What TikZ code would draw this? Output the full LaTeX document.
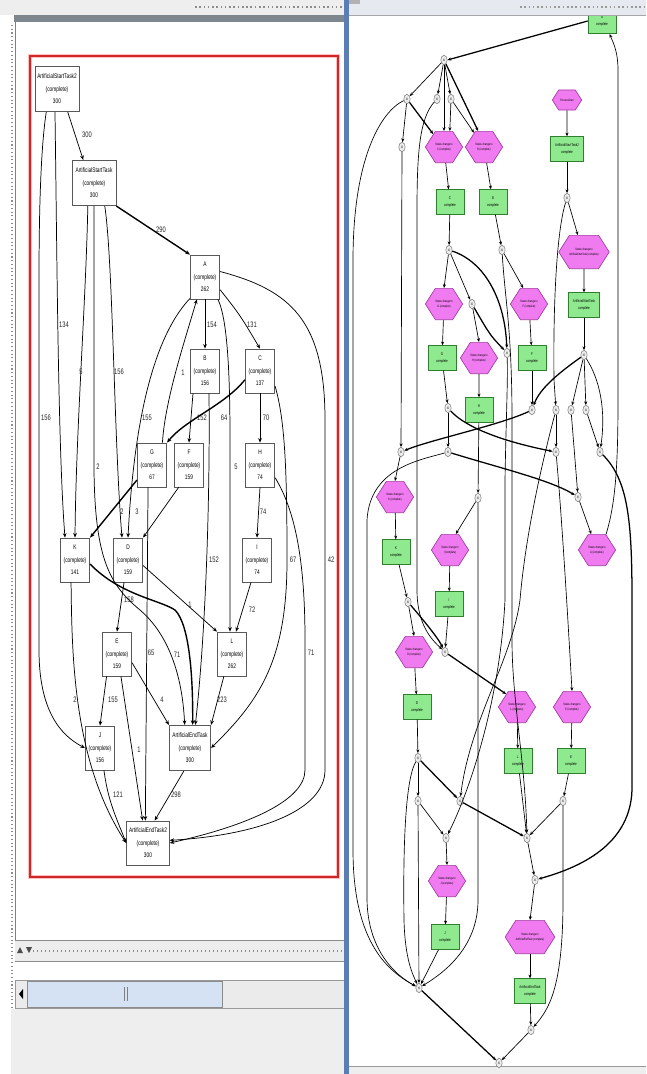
\documentclass[tikz,border=0pt]{standalone}
\usepackage{fontspec}
\setmainfont{Liberation Sans}
\newfontfamily\condfont[FakeStretch=0.72]{Liberation Sans}
\usetikzlibrary{arrows.meta,shapes.geometric,shapes.symbols}
\definecolor{redframe}{HTML}{D02828}
\definecolor{gbox}{HTML}{8FEA8F}
\definecolor{gborder}{HTML}{2F7F2F}
\definecolor{hexfill}{HTML}{F07AF0}
\definecolor{hexborder}{HTML}{A03CA0}
\definecolor{uigrey}{HTML}{EEEEEE}
\definecolor{uibar}{HTML}{7E868E}
\definecolor{uiblue}{HTML}{5B7DB5}
\definecolor{thumbc}{HTML}{D5E2F3}
\definecolor{topbar}{HTML}{E6EAF0}
\begin{document}
\begin{tikzpicture}[x=0.75pt,y=-0.75pt,
  lbox/.style={draw=black!65,line width=0.6pt,fill=white,inner sep=0pt,minimum width=22pt,minimum height=33pt,align=center,font=\condfont\fontsize{5}{9.4}\selectfont},
  wbox/.style={lbox,minimum width=33pt,minimum height=34pt},
  lbl/.style={font=\condfont\fontsize{6}{7}\selectfont,inner sep=0.5pt,text=black!85},
  ar/.style={line width=0.55pt,-{Stealth[length=3.4pt,width=2.8pt]}},
  tar/.style={ar,line width=1.05pt},
  gb/.style={draw=gborder,line width=0.5pt,fill=gbox,inner sep=0pt,minimum width=21pt,minimum height=18.5pt,align=center,font=\condfont\fontsize{3}{5}\selectfont},
  hx/.style={signal,signal to=west and east,signal pointer angle=115,draw=hexborder,line width=0.5pt,fill=hexfill,inner sep=0pt,minimum width=25pt,minimum height=23.5pt,align=center,font=\condfont\fontsize{2.4}{3.6}\selectfont},
  xc/.style={ellipse,draw=black!55,line width=0.35pt,fill=black!8,inner sep=0pt,minimum width=4.8pt,minimum height=7pt,font=\fontsize{2.5}{3}\selectfont},
  rar/.style={line width=0.5pt,-{Stealth[length=2.8pt,width=2.3pt]}},
  rtar/.style={rar,line width=0.95pt},
]
\useasboundingbox (0,0) rectangle (646,1074);
\fill[white] (0,0) rectangle (646,1074);
% ---------- left panel chrome ----------
\fill[uigrey] (0,0) rectangle (345,15);
\draw[black!45,dotted,line width=1.2pt] (195,7) -- (343,7);
\fill[uibar] (14,15) rectangle (344,22);
\draw[black!50] (15,22) -- (15,940);
\draw[black!45,dotted,line width=0.8pt] (12,25) -- (12,1008);
\draw[red!25,line width=3pt] (30,56) rectangle (338,877);
\draw[redframe,line width=1.2pt] (30,56) rectangle (338,877);
\fill[black!7] (15,940) rectangle (344,961);
\draw[black!45] (15,940) -- (344,940);
\draw[black!45] (15,961) -- (344,961);
\draw[black!45,dotted,line width=1pt] (33,951) -- (344,951);
\fill[black!70] (17,953) -- (23,953) -- (20,947) -- cycle;
\fill[black!70] (26,947) -- (32,947) -- (29,953) -- cycle;
\fill[black!8] (15,980) rectangle (344,1008);
\draw[black!40] (15,980) rectangle (344,1008);
\draw[black!45,fill=thumbc] (27,981) rectangle (222,1007);
\draw[black!50] (124,987) -- (124,1001);
\draw[black!50] (127,987) -- (127,1001);
\fill[black] (19,994) -- (23,989) -- (23,999) -- cycle;
\fill[uigrey] (11,1009) rectangle (344,1074);
% ---------- right panel chrome ----------
\fill[uiblue] (344,0) rectangle (349,1074);
\fill[uigrey] (349,1066) rectangle (646,1074);
\draw[black!40] (349,1066) -- (646,1066);
% ---------- left graph ----------
\node[wbox] (ast2) at (57,89) {ArtificialStartTask2\\(complete)\\300};
\node[wbox] (ast) at (94,183) {ArtificialStartTask\\(complete)\\300};
\node[lbox] (a) at (205,277) {A\\(complete)\\262};
\node[lbox] (b) at (205,371) {B\\(complete)\\156};
\node[lbox] (c) at (260,371) {C\\(complete)\\137};
\node[lbox] (g) at (152,465) {G\\(complete)\\67};
\node[lbox] (f) at (189,465) {F\\(complete)\\159};
\node[lbox] (h) at (260,465) {H\\(complete)\\74};
\node[lbox] (k) at (75,560) {K\\(complete)\\141};
\node[lbox] (d) at (128,560) {D\\(complete)\\159};
\node[lbox] (i) at (257,560) {I\\(complete)\\74};
\node[lbox] (e) at (117,654) {E\\(complete)\\159};
\node[lbox] (l) at (232,654) {L\\(complete)\\262};
\node[lbox] (j) at (100,748) {J\\(complete)\\156};
\node[lbox,minimum width=31pt,minimum height=34pt] (aet) at (190,748) {ArtificialEndTask\\(complete)\\300};
\node[lbox,minimum width=32pt,minimum height=33pt] (aet2) at (148,843) {ArtificialEndTask2\\(complete)\\300};

\draw[ar] (ast2.-65) -- (ast.115);
\node[lbl] (l01) at (87,135) {300};
\draw[tar] (ast.south east) -- (a.north west);
\node[lbl] (l02) at (161,230) {290};
\draw[ar] (ast2.-95) .. controls (57,250) and (58,450) .. ([xshift=-7.5pt]k.north);
\node[lbl] (l03) at (64,325) {134};
\draw[ar] (ast2.-115) .. controls (42,140) and (39,190) .. (39,280) -- (39,650) .. controls (39,710) and (60,735) .. (j.west);
\node[lbl] (l04) at (46,418) {156};
\draw[ar] (ast.-105) .. controls (86,300) and (76,430) .. (k.north);
\node[lbl] (l05) at (81,372) {5};
\draw[ar] (ast.-90) -- (94,470) .. controls (95,560) and (110,585) .. (140,610) .. controls (175,640) and (183,690) .. ([xshift=-4pt]aet.north);
\node[lbl] (l06) at (98,467) {2};
\draw[ar] (ast.-65) .. controls (113,260) and (114,440) .. ([xshift=-4.5pt]d.north);
\node[lbl] (l07) at (119,372) {156};
\draw[ar] (a.-125) .. controls (160,330) and (135,400) .. (d.north);
\node[lbl] (l08) at (147,418) {155};
\draw[ar] (g.65) .. controls (165,400) and (185,340) .. (a.-110);
\node[lbl] (l09) at (183,373) {1};
\draw[ar] (a.south) -- (b.north);
\node[lbl] (l10) at (212,325) {154};
\draw[ar] (a.-40) .. controls (240,315) .. (c.north);
\node[lbl] (l11) at (252,325) {131};
\draw[ar] ([xshift=-9pt]b.south) -- (f.north);
\node[lbl] (l12) at (202,418) {152};
\draw[ar] ([xshift=3pt]b.south) .. controls (210,480) and (207,620) .. ([xshift=4pt]aet.north);
\node[lbl] (l13) at (214,560) {152};
\draw[tar] (c.-150) .. controls (225,405) and (185,420) .. (g.north east);
\node[lbl] (l14) at (224,418) {64};
\draw[ar] (a.-60) .. controls (228,320) and (230,380) .. (230,440) -- ([xshift=-1.5pt]l.north);
\node[lbl] (l15) at (236,467) {5};
\draw[ar] (c.south) -- (h.north);
\node[lbl] (l16) at (266,418) {70};
\draw[ar] (c.-45) .. controls (285,420) and (287,470) .. (287,560) .. controls (287,660) and (260,700) .. (aet.east);
\node[lbl] (l17) at (293,560) {67};
\draw[ar] (h.-40) .. controls (295,510) and (305,560) .. (305,640) -- (305,770) .. controls (305,800) and (250,825) .. (aet2.east);
\node[lbl] (l18) at (311,653) {71};
\draw[ar] (a.20) .. controls (290,290) and (325,320) .. (325,420) -- (325,770) .. controls (325,810) and (260,835) .. ([yshift=2pt]aet2.east);
\node[lbl] (l19) at (331,560) {42};
\draw[ar] (h.south) -- (i.north);
\node[lbl] (l20) at (263,512) {74};
\draw[ar] (i.-105) -- ([xshift=3pt]l.north);
\node[lbl] (l21) at (252,610) {72};
\draw[tar] (g.-135) -- (k.north east);
\node[lbl] (l22) at (122,512) {2};
\draw[ar] (f.-115) -- (d.north east);
\node[lbl] (l23) at (137,512) {3};
\draw[ar] (g.-100) -- ([xshift=-2pt]aet2.north);
\node[lbl] (l24) at (151,653) {65};
\draw[tar] (k.-15) .. controls (120,595) and (160,600) .. (175,610) .. controls (190,625) and (193,680) .. ([xshift=2pt]aet.north);
\node[lbl] (l25) at (177,655) {71};
\draw[ar] (k.-100) .. controls (72,650) and (72,760) .. (aet2.west);
\node[lbl] (l26) at (75,700) {2};
\draw[ar] (d.-100) -- (e.north);
\node[lbl] (l27) at (129,600) {158};
\draw[ar] (d.-20) -- (l.north west);
\node[lbl] (l28) at (190,605) {1};
\draw[ar] (e.-115) -- (j.north);
\node[lbl] (l29) at (113,700) {155};
\draw[ar] (e.-30) -- (aet.north west);
\node[lbl] (l30) at (162,700) {4};
\draw[ar] (e.-80) -- ([xshift=-4pt]aet2.north);
\node[lbl] (l31) at (139,750) {1};
\draw[ar] (l.-110) -- (aet.north east);
\node[lbl] (l32) at (222,700) {223};
\draw[ar] (j.-80) .. controls (108,800) and (115,815) .. (aet2.west);
\node[lbl] (l33) at (118,795) {121};
\draw[ar] (aet.-105) -- ([xshift=5pt]aet2.north);
\node[lbl] (l34) at (176,795) {298};

% ---------- right graph ----------
\node[gb,minimum height=19pt] (rtop) at (602,21) {A\\complete};
\node[xc] (x0) at (444,60) {X};
\node[xc] (x1) at (407,99) {X};
\node[xc] (x2) at (437,99) {X};
\node[xc] (x3) at (451,99) {X};
\node[xc] (x4) at (402,147) {X};
\node[hx] (h1) at (444,147) {Status change to\\C (complete)};
\node[hx] (h2) at (484,147) {Status change to\\B (complete)};
\node[gb] (bC) at (450,202) {C\\complete};
\node[gb] (bB) at (493,202) {B\\complete};
\node[hx,minimum width=22pt,minimum height=15pt] (hS) at (567,100) {ProcessStart};
\node[gb,minimum width=25pt] (bAS2) at (567,149) {ArtificialStartTask2\\complete};
\node[xc] (x5) at (567,198) {X};
\node[hx,minimum width=34pt,minimum height=25pt] (hW1) at (584,252) {Status change to\\ArtificialStartTask (complete)};
\node[gb,minimum width=23pt] (bAS) at (584,305) {ArtificialStartTask\\complete};
\node[xc] (x6) at (584,355) {X};
\node[xc] (x7) at (449,250) {X};
\node[xc] (x8) at (502,250) {X};
\node[hx] (h3) at (444,304) {Status change to\\G (complete)};
\node[xc] (x9) at (472,304) {X};
\node[hx] (h4) at (529,304) {Status change to\\F (complete)};
\node[gb] (bG) at (442,358) {G\\complete};
\node[hx] (h5) at (479,358) {Status change to\\H (complete)};
\node[xc] (x10) at (507,353) {X};
\node[gb] (bF) at (532,358) {F\\complete};
\node[gb] (bH) at (479,410) {H\\complete};
\node[xc] (x11) at (448,408) {X};
\node[xc] (x12) at (532,410) {X};
\node[xc] (x13) at (556,410) {X};
\node[xc] (x14) at (571,410) {X};
\node[xc] (x15) at (586,410) {X};
\node[xc] (x16) at (401,452) {X};
\node[xc] (x17) at (448,452) {X};
\node[xc] (x18) at (556,452) {X};
\node[xc] (x19) at (600,452) {X};
\node[hx] (h6) at (395,497) {Status change to\\K (complete)};
\node[xc] (x20) at (478,498) {X};
\node[xc] (x21) at (578,497) {X};
\node[gb] (bK) at (396,552) {K\\complete};
\node[hx] (h7) at (450,550) {Status change to\\I (complete)};
\node[hx] (h8) at (597,550) {Status change to\\A (complete)};
\node[xc] (x22) at (408,602) {X};
\node[gb] (bI) at (449,604) {I\\complete};
\node[hx] (h9) at (414,652) {Status change to\\D (complete)};
\node[xc] (x23) at (445,652) {X};
\node[gb] (bD) at (417,707) {D\\complete};
\node[hx] (h10) at (517,707) {Status change to\\L (complete)};
\node[hx] (h11) at (572,707) {Status change to\\E (complete)};
\node[xc] (x24) at (418,758) {X};
\node[gb] (bL) at (518,761) {L\\complete};
\node[gb] (bE) at (571,761) {E\\complete};
\node[xc] (x25) at (418,801) {X};
\node[xc] (x26) at (460,801) {X};
\node[xc] (x27) at (563,801) {X};
\node[xc] (x28) at (446,838) {X};
\node[xc] (x29) at (527,838) {X};
\node[hx] (h12) at (447,881) {Status change to\\J (complete)};
\node[xc] (x30) at (535,880) {X};
\node[gb] (bJ) at (445,937) {J\\complete};
\node[hx,minimum width=32pt,minimum height=25pt] (hW2) at (530,937) {Status change to\\ArtificialEndTask (complete)};
\node[xc] (x31) at (419,988) {X};
\node[gb,minimum width=23pt] (bAE) at (530,991) {ArtificialEndTask\\complete};
\node[xc] (x32) at (531,1030) {X};
\node[xc] (x33) at (499,1063) {X};

\draw[rtar] (rtop.west) -- (x0.east);
\draw[rar] (x0) -- (x1);
\draw[rar] (x0) -- (x2);
\draw[rar] (x0) -- (x3);
\draw[rar] (x0) -- (h1.north);
\draw[rtar] (x0) -- (h2.110);
\draw[rar] (x1) -- (x4);
\draw[rtar] (x1) -- (h1.130);
\draw[rar] (x1) .. controls (380,112) and (353,160) .. (353,260) -- (353,850) .. controls (353,945) and (390,972) .. (x31);
\draw[rar] (x2) .. controls (420,118) and (417,150) .. (417,210) -- (417,590) .. controls (417,625) and (432,640) .. (x23);
\draw[rar] (x3) -- (h2.125);
\draw[rar] (x3) -- (h1.70);
\draw[rar] (h1) -- (bC);
\draw[rar] (h2) -- (bB);
\draw[rar] (x4) -- (x16);
\draw[rar] (hS) -- (bAS2);
\draw[rar] (bAS2) -- (x5);
\draw[rar] (x5) -- (hW1.110);
\draw[rar] (x5) .. controls (557,230) and (553,300) .. (554,380) -- (x13);
\draw[rar] (hW1) -- (bAS);
\draw[rar] (bAS) -- (x6);
\draw[rtar] (x6) .. controls (560,372) and (540,388) .. (x12);
\draw[rar] (x6) -- (x14);
\draw[rar] (x6) -- (x15);
\draw[rar] (x6) .. controls (600,380) and (606,410) .. (x19);
\draw[rar] (bC) -- (x7);
\draw[rar] (x7) -- (h3.north);
\draw[rar] (x7) -- (x9);
\draw[rtar] (x7) .. controls (485,262) and (505,300) .. (x10);
\draw[rar] (bB) -- (x8);
\draw[rar] (x8) -- (h4.110);
\draw[rar] (x8) .. controls (505,300) and (512,330) .. (512,420) -- (512,640) .. controls (512,700) and (525,760) .. (x29);
\draw[rar] (x9) -- (h5.north);
\draw[rtar] (x9) .. controls (490,335) .. (x10);
\draw[rar] (h3) -- (bG);
\draw[rar] (bG) -- (x11);
\draw[rar] (h4) -- (bF);
\draw[rar] (bF) -- (x12);
\draw[rar] (h5) -- (bH);
\draw[rar] (bH) -- (x20);
\draw[rar] (x10) .. controls (508,380) and (506,420) .. (505,480) -- (505,600) .. controls (500,700) and (470,790) .. (x28);
\draw[rar] (x11) -- (x17);
\draw[rtar] (x11) .. controls (470,432) and (520,445) .. (x18);
\draw[rtar] (x12) .. controls (500,425) and (430,440) .. (x16);
\draw[rar] (x13) -- (x18);
\draw[rar] (x13) .. controls (540,470) and (525,540) .. (520,600) .. controls (512,660) and (470,720) .. (x26);
\draw[rar] (x14) -- (x21);
\draw[rar] (x15) -- (x19);
\draw[rtar] (x17) .. controls (500,468) and (550,480) .. (x21);
\draw[rar] (x17) .. controls (420,460) and (370,468) .. (367,520) -- (367,900) .. controls (368,950) and (395,975) .. (x31);
\draw[rar] (x16) -- (h6.north);
\draw[rar] (h6) -- (bK);
\draw[rar] (bK) -- (x22);
\draw[rar] (x22) -- (h9.north);
\draw[rtar] (x22) .. controls (425,622) and (438,638) .. (x23);
\draw[rar] (x20) -- (h7.70);
\draw[rar] (x20) -- (478,900) .. controls (478,950) and (440,975) .. (x31);
\draw[rar] (h7) -- (bI);
\draw[rar] (bI) -- (x23);
\draw[rar] (x21) -- (h8.110);
\draw[rar] (h8.60) .. controls (615,505) and (618,470) .. (618,400) -- (618,70) .. controls (618,50) and (612,40) .. (rtop.-60);
\draw[rtar] (x19) .. controls (628,480) and (632,520) .. (632,600) -- (632,790) .. controls (630,850) and (570,870) .. (x30);
\draw[rtar] (x23) -- (h10.130);
\draw[rar] (h9) -- (bD);
\draw[rar] (bD) -- (x24);
\draw[rar] (x18) .. controls (562,520) and (568,620) .. (h11.north);
\draw[rar] (h10) -- (bL);
\draw[rar] (h11) -- (bE);
\draw[rar] (x24) -- (x25);
\draw[rtar] (x24) -- (x26);
\draw[rar] (x24) .. controls (405,780) and (403,850) .. (404,920) .. controls (405,960) and (413,975) .. (x31);
\draw[rar] (bE) -- (x27);
\draw[rar] (x27) -- (x29);
\draw[rtar] (x26) -- (x29);
\draw[rar] (bL) -- (x29);
\draw[rar] (x25) -- (x28);
\draw[rar] (x25) -- (x31);
\draw[rar] (x28) -- (h12.north);
\draw[rar] (h12) -- (bJ);
\draw[rar] (bJ) -- (x31);
\draw[rar] (x29) -- (x30);
\draw[rar] (x30) -- (hW2.north);
\draw[rar] (hW2) -- (bAE);
\draw[rar] (bAE) -- (x32);
\draw[rar] (x27) -- (563,900) .. controls (563,990) and (548,1010) .. (x32);
\draw[rar] (x32) -- (x33);
\draw[rtar] (x31) -- (x33);
% right panel top bar (drawn last: covers top box edge)
\fill[topbar] (349,0) rectangle (646,15);
\draw[black!35] (349,15) -- (646,15);
\draw[black!40,dotted,line width=1.2pt] (520,7) -- (646,7);
\fill[black!30] (349,0) rectangle (360,4);
\end{tikzpicture}
\end{document}
